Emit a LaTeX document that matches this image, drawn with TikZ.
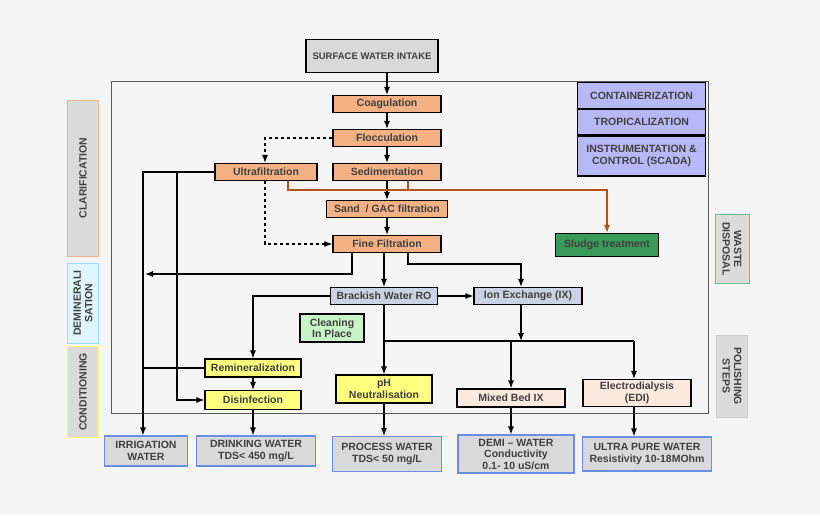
\documentclass[tikz,border=0pt]{standalone}
\usepackage{fontspec}
\setmainfont{Liberation Sans}
\usepackage{xcolor}
\usepackage{tikz}
\usetikzlibrary{positioning,arrows.meta}
\definecolor{bgc}{HTML}{F5F5F5}
\definecolor{orng}{HTML}{F4B183}
\definecolor{brwn}{HTML}{B5521B}
\definecolor{sludge}{HTML}{3A9A5A}
\definecolor{rob}{HTML}{C9D3E3}
\definecolor{yel}{HTML}{FFFF80}
\definecolor{peach}{HTML}{FDEADF}
\definecolor{lav}{HTML}{B8B8F8}
\definecolor{outb}{HTML}{6A8EE8}
\definecolor{cip}{HTML}{C8F5C8}
\definecolor{txt}{HTML}{404040}
\tikzset{
  main node/.style={draw,line width=1.2pt,text=txt,font=\fontsize{10.5}{11.5}\selectfont\bfseries,inner sep=1pt,align=center},
  proc/.style={main node,fill=orng,minimum width=108pt,minimum height=17pt},
  out node/.style={main node,fill=gray!30,draw=outb,minimum height=30pt},
  side/.style={draw,thick,fill=gray!28,text=txt,rotate=#1,font=\fontsize{10.5}{11.5}\selectfont\bfseries,align=center,inner sep=1pt},
  flow/.style={draw,line width=1.1pt,-{Latex[length=8pt,width=6pt]}},
}
\begin{document}
\begin{tikzpicture}[x=1pt,y=-1pt]
  \fill[bgc] (0,0) rectangle (820,515);
  \useasboundingbox (0,0) rectangle (820,515);
  \draw[thick,gray!70!black] (111,81) rectangle (708,413);

  \node[main node,fill=gray!30,minimum width=132pt,minimum height=33pt,font=\fontsize{9.5}{11}\selectfont\bfseries] (intake) at (372,56) {SURFACE WATER INTAKE};
  \node[proc] (coag) at (387,104) {Coagulation};
  \node[proc] (floc) at (387,138) {Flocculation};
  \node[proc,minimum width=102pt] (uf) at (266,172) {Ultrafiltration};
  \node[proc] (sed) at (387,172) {Sedimentation};
  \node[proc,minimum width=121pt] (sand) at (387,209) {Sand~ / GAC filtration};
  \node[proc] (fine) at (387,244) {Fine Filtration};
  \node[main node,fill=sludge,minimum width=103pt,minimum height=23pt,text=black!75] (sludge) at (607,245) {Sludge treatment};
  \node[main node,fill=rob,minimum width=107pt,minimum height=17pt] (ro) at (384,296) {Brackish Water RO};
  \node[main node,fill=rob,minimum width=108pt,minimum height=17pt] (ix) at (528,296) {Ion Exchange (IX)};
  \node[main node,fill=cip,minimum width=64pt,minimum height=28pt] (cip) at (332,328) {Cleaning\\In Place};
  \node[main node,fill=yel,minimum width=96pt,minimum height=18pt] (remin) at (253,368) {Remineralization};
  \node[main node,fill=yel,minimum width=96pt,minimum height=19pt] (disinf) at (253,400) {Disinfection};
  \node[main node,fill=yel,minimum width=96pt,minimum height=28pt] (ph) at (384,389) {pH\\Neutralisation};
  \node[main node,fill=peach,minimum width=108pt,minimum height=18pt] (mbix) at (511,398) {Mixed Bed IX};
  \node[main node,fill=peach,minimum width=108pt,minimum height=27pt] (edi) at (637,393) {Electrodialysis\\(EDI)};

  \node[out node,minimum width=83pt] (irr) at (146,451) {IRRIGATION\\WATER};
  \node[out node,minimum width=119pt] (drink) at (256,451) {DRINKING WATER\\TDS< 450 mg/L};
  \node[out node,minimum width=109pt,minimum height=35pt] (proc) at (387,454) {PROCESS WATER\\TDS< 50 mg/L};
  \node[out node,minimum width=116pt,minimum height=38pt] (demi) at (516,454) {DEMI -- WATER\\Conductivity\\0.1- 10 uS/cm};
  \node[out node,minimum width=129pt,minimum height=34pt] (upw) at (647,454) {ULTRA PURE WATER\\Resistivity 10-18MOhm};

  \node[main node,fill=lav,minimum width=128pt,minimum height=26pt,anchor=north west] (cont) at (577,82) {CONTAINERIZATION};
  \node[main node,fill=lav,minimum width=128pt,minimum height=25pt,below=0pt of cont] (trop) {TROPICALIZATION};
  \node[main node,fill=lav,minimum width=128pt,minimum height=40pt,below=0pt of trop] (scada) {INSTRUMENTATION \&\\CONTROL (SCADA)};

  \node[side=90,draw=orng,minimum width=156pt,minimum height=31pt] (clar) at (83,178) {CLARIFICATION};
  \node[side=90,draw=cyan!40,fill=cyan!12,minimum width=80pt,minimum height=31pt] (demin) at (83,303) {DEMINERALI\\SATION};
  \node[side=90,draw=yellow!60,minimum width=91pt,minimum height=31pt] (cond) at (83,392) {CONDITIONING};
  \node[side=-90,draw=sludge!70,minimum width=69pt,minimum height=34pt] (waste) at (732,249) {WASTE\\DISPOSAL};
  \node[side=-90,draw=gray!40,minimum width=82pt,minimum height=31pt] (pol) at (732,376) {POLISHING\\STEPS};

  \coordinate (split) at (521,341);
  \path[flow] (intake.south -| coag) -- (coag);
  \path[flow] (coag) -- (floc);
  \path[flow] (floc) -- (sed);
  \path[flow] (sed) -- (sand);
  \path[flow] (sand) -- (fine);
  \path[flow,dashed] (floc.west) -| (uf.north -| 265,0);
  \path[flow,dashed] (uf.south -| 265,0) |- (fine.west);
  \draw[line width=1.1pt,brwn] (uf.south -| 288,0) |- (408,190) -- (sed.south -| 408,0);
  \path[flow,brwn] (408,190) -| (sludge);
  \path[flow] (fine.south -| ro) -- (ro);
  \path[flow] (fine.south -| 408,0) |- (521,264) -- (ix.north -| 521,0);
  \path[flow] (fine.south -| 352,0) |- (145,274);
  \path[flow] (uf.west) -| (irr.north -| 143,0);
  \path[flow] (177,172) |- (disinf.west);
  \path[flow] (ro) -- (ix);
  \path[flow] (ro.west) -| (remin.north);
  \draw[line width=1.1pt] (remin.west) -- (143,368);
  \path[flow] (remin) -- (disinf);
  \path[flow] (disinf) -- (drink.north -| disinf);
  \path[flow] (ro) -- (ph);
  \path[flow] (ix.south -| split) -- (split);
  \draw[line width=1.1pt] (384,341) -- (634,341);
  \path[flow] (mbix.north |- split) -- (mbix.north);
  \path[flow] (634,341) -- (edi.north -| 634,0);
  \path[flow] (ph.south) -- (proc.north -| ph);
  \path[flow] (mbix.south) -- (demi.north -| mbix);
  \path[flow] (edi.south -| 634,0) -- (upw.north -| 634,0);
\end{tikzpicture}
\end{document}
